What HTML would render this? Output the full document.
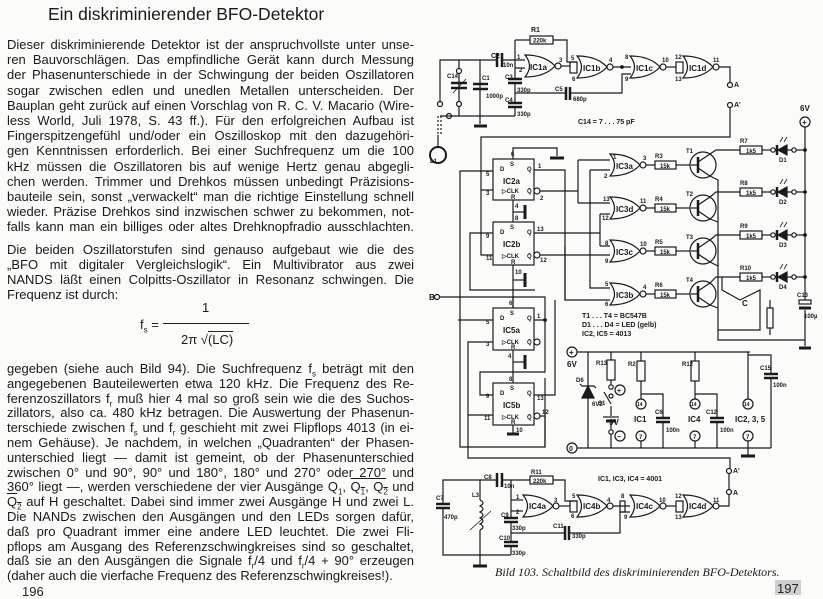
<!DOCTYPE html>
<html><head><meta charset="utf-8">
<style>
html,body{margin:0;padding:0;background:#fbfbfa;}
#p{position:relative;width:823px;height:599px;overflow:hidden;font-family:"Liberation Sans",sans-serif;color:#1a1a1a;}
.l{position:absolute;left:7px;width:407px;font-size:13px;line-height:16px;height:16px;text-align:justify;text-align-last:justify;white-space:nowrap;}
.n{text-align-last:left;}
sub{font-size:8px;line-height:0;}
svg{position:absolute;left:0;top:0;}
</style></head><body><div id="p">
<div style="position:absolute;left:48px;top:4px;font-size:17.5px;">Ein diskriminierender BFO-Detektor</div>
<div class="l" style="top:37px">Dieser diskriminierende Detektor ist der anspruchvollste unter unse-</div>
<div class="l" style="top:52px">ren Bauvorschlägen. Das empfindliche Gerät kann durch Messung</div>
<div class="l" style="top:67px">der Phasenunterschiede in der Schwingung der beiden Oszillatoren</div>
<div class="l" style="top:83px">sogar zwischen edlen und unedlen Metallen unterscheiden. Der</div>
<div class="l" style="top:98px">Bauplan geht zurück auf einen Vorschlag von R. C. V. Macario (Wire-</div>
<div class="l" style="top:113px">less World, Juli 1978, S. 43 ff.). Für den erfolgreichen Aufbau ist</div>
<div class="l" style="top:128px">Fingerspitzengefühl und/oder ein Oszilloskop mit den dazugehöri-</div>
<div class="l" style="top:143px">gen Kenntnissen erforderlich. Bei einer Suchfrequenz um die 100</div>
<div class="l" style="top:159px">kHz müssen die Oszillatoren bis auf wenige Hertz genau abgegli-</div>
<div class="l" style="top:174px">chen werden. Trimmer und Drehkos müssen unbedingt Präzisions-</div>
<div class="l" style="top:189px">bauteile sein, sonst „verwackelt“ man die richtige Einstellung schnell</div>
<div class="l" style="top:204px">wieder. Präzise Drehkos sind inzwischen schwer zu bekommen, not-</div>
<div class="l" style="top:219px">falls kann man ein billiges oder altes Drehknopfradio ausschlachten.</div>
<div class="l" style="top:242px">Die beiden Oszillatorstufen sind genauso aufgebaut wie die des</div>
<div class="l" style="top:257px">„BFO mit digitaler Vergleichslogik“. Ein Multivibrator aus zwei</div>
<div class="l" style="top:272px">NANDS läßt einen Colpitts-Oszillator in Resonanz schwingen. Die</div>
<div class="l n" style="top:287px">Frequenz ist durch:</div>
<div style="position:absolute;left:202px;top:300px;font-size:13px">1</div>
<div style="position:absolute;left:140px;top:317px;font-size:13px">f<sub>s</sub> =</div>
<div style="position:absolute;left:163px;top:323px;width:86px;border-top:1px solid #222"></div>
<div style="position:absolute;left:181px;top:332px;font-size:13px">2π √<span style="border-top:1px solid #222">(LC)</span></div>
<div class="l" style="top:361px">gegeben (siehe auch Bild 94). Die Suchfrequenz f<sub>s</sub> beträgt mit den</div>
<div class="l" style="top:375.8px">angegebenen Bauteilewerten etwa 120 kHz. Die Frequenz des Re-</div>
<div class="l" style="top:390.6px">ferenzoszillators f<sub>r</sub> muß hier 4 mal so groß sein wie die des Suchos-</div>
<div class="l" style="top:405.4px">zillators, also ca. 480 kHz betragen. Die Auswertung der Phasenun-</div>
<div class="l" style="top:420.2px">terschiede zwischen f<sub>s</sub> und f<sub>r</sub> geschieht mit zwei Flipflops 4013 (in ei-</div>
<div class="l" style="top:435px">nem Gehäuse). Je nachdem, in welchen „Quadranten“ der Phasen-</div>
<div class="l" style="top:449.8px">unterschied liegt — damit ist gemeint, ob der Phasenunterschied</div>
<div class="l" style="top:464.6px">zwischen 0° und 90°, 90° und 180°, 180° und 270° oder <u>270°</u> und</div>
<div class="l" style="top:479.4px">360° liegt —, werden verschiedene der vier Ausgänge Q<sub>1</sub>, <span style="text-decoration:overline">Q<sub>1</sub></span>, <span style="text-decoration:overline">Q<sub>2</sub></span> und</div>
<div class="l" style="top:494.2px"><span style="text-decoration:overline">Q<sub>2</sub></span> auf H geschaltet. Dabei sind immer zwei Ausgänge H und zwei L.</div>
<div class="l" style="top:509px">Die NANDs zwischen den Ausgängen und den LEDs sorgen dafür,</div>
<div class="l" style="top:523.8px">daß pro Quadrant immer eine andere LED leuchtet. Die zwei Fli-</div>
<div class="l" style="top:538.6px">pflops am Ausgang des Referenzschwingkreises sind so geschaltet,</div>
<div class="l" style="top:553.4px">daß sie an den Ausgängen die Signale f<sub>r</sub>/4 und f<sub>r</sub>/4 + 90° erzeugen</div>
<div class="l n" style="top:568.2px">(daher auch die vierfache Frequenz des Referenzschwingkreises!).</div>

<svg width="823" height="599" viewBox="0 0 823 599" font-family="Liberation Sans, sans-serif" font-size="7" font-weight="bold" fill="none" stroke="#1a1a1a" stroke-width="1.2">
<defs>
<g id="nor"><path d="M0,0 Q9,11 0,22 Q20,22 30,11 Q20,0 0,0 Z" fill="#fbfbfa"/><circle cx="33" cy="11" r="3" fill="#fbfbfa"/></g>
<g id="tr"><circle cx="0" cy="0" r="13" fill="#fbfbfa"/><line x1="-5" y1="-8" x2="-5" y2="8" stroke-width="2.5"/><line x1="-5" y1="-3" x2="7" y2="-11"/><line x1="-5" y1="3" x2="7" y2="11"/><line x1="-12" y1="0" x2="-5" y2="0"/></g>
<g id="led"><path d="M0,-5 L0,5 L-9,0 Z" fill="#1a1a1a"/><line x1="-10" y1="-5" x2="-10" y2="5" stroke-width="2.5"/><line x1="-3" y1="-8" x2="0" y2="-13" stroke-width="0.8"/><line x1="-7" y1="-8" x2="-4" y2="-13" stroke-width="0.8"/></g>
</defs>
<text x="22" y="596" font-size="13" font-weight="normal" fill="#222" stroke="none">196</text>

<!-- TOP OSCILLATOR -->
<polyline points="440,103 440,60 497,60"/><polyline points="501,60 525,60"/>
<line x1="497" y1="53" x2="497" y2="67" stroke-width="2.5"/><line x1="502" y1="53" x2="502" y2="67" stroke-width="2.5"/>
<polyline points="459,60 459,116"/><line x1="451" y1="83" x2="467" y2="83" stroke-width="2.5"/><line x1="451" y1="88" x2="467" y2="88" stroke-width="2.5"/><line x1="453" y1="93" x2="466" y2="79" stroke-width="0.8"/>
<circle cx="459" cy="71" r="2.5" fill="#fbfbfa"/><circle cx="459" cy="104" r="2.5" fill="#fbfbfa"/><circle cx="440" cy="104" r="2.5" fill="#fbfbfa"/><circle cx="449" cy="116" r="2.5" fill="#fbfbfa"/>
<line x1="480" y1="60" x2="480" y2="124"/><line x1="473" y1="84" x2="488" y2="84" stroke-width="2.5"/><line x1="473" y1="89" x2="488" y2="89" stroke-width="2.5"/>
<line x1="474" y1="126" x2="487" y2="126" stroke-width="3"/>
<polyline points="440,116 515,116"/>
<polyline points="515,40 515,79"/><line x1="508" y1="79" x2="522" y2="79" stroke-width="2.5"/><line x1="508" y1="83" x2="522" y2="83" stroke-width="2.5"/>
<line x1="515" y1="83" x2="515" y2="103"/><line x1="508" y1="103" x2="522" y2="103" stroke-width="2.5"/><line x1="508" y1="107" x2="522" y2="107" stroke-width="2.5"/><line x1="515" y1="107" x2="515" y2="116"/>
<polyline points="515,93 566,93"/><line x1="566" y1="87" x2="566" y2="100" stroke-width="2.5"/><line x1="570" y1="87" x2="570" y2="100" stroke-width="2.5"/><polyline points="570,93 622,93 622,74 631,74"/>
<polyline points="515,40 530,40"/><rect x="530" y="36" width="23" height="8" fill="#fbfbfa"/><polyline points="553,40 567,40 567,62 577,62"/>
<polyline points="515,68 525,68"/>
<path d="M438,116 L438,135" stroke-dasharray="2,2"/><path d="M441,116 L441,135" stroke-dasharray="2,2"/>
<circle cx="438" cy="155" r="8" stroke-width="2"/><line x1="438" y1="135" x2="438" y2="147"/>
<use href="#nor" x="525" y="55"/><polyline points="561,66 570,66"/><rect x="570" y="62" width="7" height="11"/>
<use href="#nor" x="577" y="56"/><polyline points="613,67 631,67"/><circle cx="622" cy="67" r="1.3" fill="#1a1a1a"/>
<use href="#nor" x="630" y="56"/><polyline points="666,67 676,67"/><rect x="676" y="62" width="7" height="11"/>
<use href="#nor" x="683" y="56"/><polyline points="719,67 730,67 730,82"/>
<circle cx="730" cy="85" r="2.5" fill="#fbfbfa"/><circle cx="730" cy="105" r="2.5" fill="#fbfbfa"/>
<polyline points="730,108 730,137 481,137 481,255 493,255"/><polyline points="481,190 493,190"/>
<g fill="#1a1a1a" stroke="none">
<text x="531" y="32">R1</text><text x="533" y="42.5" font-size="6">220k</text>
<text x="491" y="58">C2</text><text x="503" y="67" font-size="6">10n</text>
<text x="447" y="78" font-size="6">C14</text><text x="482" y="80" font-size="6">C1</text><text x="486" y="98" font-size="6">1000p</text>
<text x="505" y="79" font-size="6">C3</text><text x="517" y="92" font-size="6">330p</text><text x="505" y="102" font-size="6">C4</text><text x="517" y="116" font-size="6">330p</text>
<text x="555" y="91" font-size="6">C5</text><text x="573" y="101" font-size="6">680p</text>
<text x="517" y="59" font-size="6">1</text><text x="519" y="72" font-size="6">2</text><text x="559" y="62" font-size="6">3</text><text x="571" y="60" font-size="6">5</text><text x="572" y="81" font-size="6">6</text><text x="609" y="62" font-size="6">4</text><text x="625" y="59" font-size="6">8</text><text x="625" y="81" font-size="6">9</text><text x="662" y="62" font-size="6">10</text><text x="675" y="59" font-size="6">12</text><text x="675" y="81" font-size="6">13</text><text x="713" y="62" font-size="6">11</text>
<text x="530" y="70" font-size="8">IC1a</text><text x="583" y="71" font-size="8">IC1b</text><text x="636" y="71" font-size="8">IC1c</text><text x="689" y="71" font-size="8">IC1d</text>
<text x="734" y="87">A</text><text x="734" y="107">A'</text>
<text x="578" y="124" font-size="7">C14 = 7 . . . 75 pF</text>
<text x="430" y="163" font-size="6">L1</text>
</g>

<!-- IC2 flipflops -->
<rect x="493" y="159" width="41" height="41" fill="#fbfbfa"/><rect x="493" y="222" width="41" height="43" fill="#fbfbfa"/>
<polyline points="513,159 513,148 557,148 557,156"/><line x1="550" y1="158" x2="564" y2="158" stroke-width="3"/>
<line x1="513" y1="200" x2="513" y2="222"/><line x1="513" y1="212" x2="525" y2="212"/><line x1="525" y1="205" x2="525" y2="219" stroke-width="3"/>
<line x1="513" y1="265" x2="513" y2="330"/><line x1="513" y1="280" x2="525" y2="280"/><line x1="525" y1="273" x2="525" y2="287" stroke-width="3"/>
<polyline points="493,171 460,171 460,447 545,447 545,378"/>
<polyline points="493,233 470,233 470,290 535,290"/>
<polyline points="534,170 565,170 565,300"/>
<polyline points="537,191 578,191"/><polyline points="578,160 578,203"/><polyline points="578,160 610,160"/><polyline points="578,203 610,203"/>
<polyline points="534,233 600,233"/><polyline points="600,214 600,246"/><polyline points="600,214 610,214"/><polyline points="600,246 610,246"/>
<polyline points="537,255 610,255"/><polyline points="590,170 590,288 610,288"/><polyline points="590,170 610,170"/>
<polyline points="565,246 565,300 610,300"/>
<circle cx="537" cy="191" r="3" fill="#fbfbfa"/><circle cx="537" cy="255" r="3" fill="#fbfbfa"/>
<use href="#nor" x="610" y="154"/><use href="#nor" x="610" y="197"/><use href="#nor" x="610" y="240"/><use href="#nor" x="610" y="283"/>
<g id="rr"><line x1="646" y1="165" x2="655" y2="165"/><rect x="655" y="161" width="21" height="8" fill="#fbfbfa"/><line x1="676" y1="165" x2="691" y2="165"/></g>
<use href="#rr" y="43"/><use href="#rr" y="86"/><use href="#rr" y="129"/>
<use href="#tr" x="703" y="165"/><use href="#tr" x="703" y="208"/><use href="#tr" x="703" y="251"/><use href="#tr" x="703" y="294"/>
<polyline points="710,154 716,150 740,150"/><polyline points="710,197 716,192 740,192"/><polyline points="710,240 716,235 740,235"/><polyline points="710,283 716,277 740,277"/>
<polyline points="710,176 718,180 718,340 805,340"/><polyline points="710,219 718,222"/><polyline points="710,262 718,266"/><polyline points="710,305 718,308"/>
<g id="rl"><rect x="740" y="146" width="22" height="8" fill="#fbfbfa"/><line x1="762" y1="150" x2="771" y2="150"/><circle cx="773" cy="150" r="2.2" fill="#fbfbfa"/><line x1="775" y1="150" x2="777" y2="150"/><use href="#led" x="787" y="150"/><line x1="787" y1="150" x2="792" y2="150"/><circle cx="794" cy="150" r="2.2" fill="#fbfbfa"/><line x1="796" y1="150" x2="805" y2="150"/><circle cx="805" cy="150" r="1.3" fill="#1a1a1a"/></g>
<use href="#rl" y="42"/><use href="#rl" y="85"/><use href="#rl" y="127"/>
<circle cx="805" cy="122" r="5" fill="#fbfbfa"/><line x1="805" y1="127" x2="805" y2="300"/><line x1="805" y1="310" x2="805" y2="346"/>
<rect x="799" y="300" width="12" height="4" fill="#fbfbfa"/><line x1="799" y1="308" x2="811" y2="308" stroke-width="3"/>
<line x1="799" y1="348" x2="811" y2="348" stroke-width="3"/>
<polyline points="722,277 722,290 740,300 760,290 760,330 718,330"/><rect x="767" y="308" width="6" height="20" fill="#fbfbfa"/><line x1="770" y1="300" x2="770" y2="308"/><line x1="770" y1="328" x2="770" y2="335"/>
<g fill="#1a1a1a" stroke="none">
<text x="500" y="171" font-size="6">D</text><text x="510" y="166" font-size="6">S</text><text x="527" y="171" font-size="6">Q</text><text x="502" y="193" font-size="6">▷CLK</text><text x="511" y="199" font-size="6">R</text><text x="527" y="193" font-size="6">Q̄</text>
<text x="503" y="184" font-size="8">IC2a</text>
<text x="500" y="234" font-size="6">D</text><text x="510" y="229" font-size="6">S</text><text x="527" y="234" font-size="6">Q</text><text x="502" y="258" font-size="6">▷CLK</text><text x="511" y="264" font-size="6">R</text><text x="527" y="258" font-size="6">Q̄</text>
<text x="503" y="247" font-size="8">IC2b</text>
<text x="511" y="156" font-size="6">6</text><text x="486" y="176" font-size="6">5</text><text x="538" y="168" font-size="6">1</text><text x="486" y="195" font-size="6">3</text><text x="540" y="200" font-size="6">2</text><text x="515" y="208" font-size="6">4</text><text x="515" y="220" font-size="6">8</text>
<text x="486" y="238" font-size="6">9</text><text x="537" y="231" font-size="6">13</text><text x="486" y="260" font-size="6">11</text><text x="540" y="262" font-size="6">12</text><text x="515" y="274" font-size="6">10</text>
<text x="613" y="159" font-size="6">1</text><text x="604" y="178" font-size="6">2</text><text x="603" y="201" font-size="6">13</text><text x="602" y="220" font-size="6">12</text><text x="605" y="245" font-size="6">8</text><text x="605" y="263" font-size="6">9</text><text x="605" y="286" font-size="6">5</text><text x="605" y="306" font-size="6">6</text>
<text x="616" y="169" font-size="8">IC3a</text><text x="616" y="212" font-size="8">IC3d</text><text x="616" y="255" font-size="8">IC3c</text><text x="616" y="298" font-size="8">IC3b</text>
<text x="643" y="160" font-size="6">3</text><text x="640" y="203" font-size="6">11</text><text x="640" y="246" font-size="6">10</text><text x="643" y="289" font-size="6">4</text>
<text x="655" y="158" font-size="6">R3</text><text x="655" y="201" font-size="6">R4</text><text x="655" y="244" font-size="6">R5</text><text x="655" y="287" font-size="6">R6</text>
<text x="660" y="168" font-size="6">15k</text><text x="660" y="211" font-size="6">15k</text><text x="660" y="254" font-size="6">15k</text><text x="660" y="297" font-size="6">15k</text>
<text x="686" y="153" font-size="6">T1</text><text x="686" y="196" font-size="6">T2</text><text x="686" y="239" font-size="6">T3</text><text x="686" y="282" font-size="6">T4</text>
<text x="740" y="143" font-size="6">R7</text><text x="740" y="185" font-size="6">R8</text><text x="740" y="228" font-size="6">R9</text><text x="740" y="270" font-size="6">R10</text>
<text x="746" y="153" font-size="6">1k5</text><text x="746" y="195" font-size="6">1k5</text><text x="746" y="238" font-size="6">1k5</text><text x="746" y="280" font-size="6">1k5</text>
<text x="779" y="162" font-size="6">D1</text><text x="779" y="204" font-size="6">D2</text><text x="779" y="247" font-size="6">D3</text><text x="779" y="289" font-size="6">D4</text>
<text x="800" y="111" font-size="8">6V</text><text x="802" y="125" font-size="8">+</text>
<text x="797" y="297" font-size="6">C13</text><text x="804" y="318" font-size="6">100µ</text>
<text x="742" y="306" font-size="8">C</text>
<text x="429" y="300" font-size="8">B</text>
</g>

<!-- IC5 -->
<circle cx="437" cy="297" r="2.5" fill="#fbfbfa"/><polyline points="440,297 545,297 545,318"/>
<rect x="493" y="308" width="41" height="42" fill="#fbfbfa"/><rect x="493" y="383" width="41" height="42" fill="#fbfbfa"/>
<polyline points="513,308 513,297"/><line x1="513" y1="350" x2="513" y2="383"/><line x1="513" y1="362" x2="525" y2="362"/><line x1="525" y1="355" x2="525" y2="369" stroke-width="3"/>
<line x1="513" y1="425" x2="513" y2="433"/><line x1="507" y1="434" x2="519" y2="434" stroke-width="3"/>
<polyline points="493,320 458,320"/><polyline points="534,320 545,320 545,372 480,372 480,395 493,395"/><circle cx="545" cy="320" r="1.3" fill="#1a1a1a"/>
<polyline points="534,395 555,395 555,300"/><polyline points="537,416 545,416 545,447"/>
<circle cx="537" cy="342" r="3" fill="#fbfbfa"/><circle cx="537" cy="416" r="3" fill="#fbfbfa"/>
<polyline points="493,342 468,342 468,458 730,458 730,468"/><polyline points="468,415 493,415"/>
<g fill="#1a1a1a" stroke="none">
<text x="500" y="320" font-size="6">D</text><text x="510" y="315" font-size="6">S</text><text x="527" y="320" font-size="6">Q</text><text x="502" y="344" font-size="6">▷CLK</text><text x="511" y="349" font-size="6">R</text><text x="527" y="344" font-size="6">Q̄</text>
<text x="503" y="333" font-size="8">IC5a</text>
<text x="500" y="395" font-size="6">D</text><text x="510" y="390" font-size="6">S</text><text x="527" y="395" font-size="6">Q</text><text x="502" y="419" font-size="6">▷CLK</text><text x="511" y="424" font-size="6">R</text><text x="527" y="419" font-size="6">Q̄</text>
<text x="503" y="408" font-size="8">IC5b</text>
<text x="509" y="305" font-size="6">6</text><text x="486" y="324" font-size="6">5</text><text x="537" y="318" font-size="6">1</text><text x="486" y="346" font-size="6">3</text><text x="508" y="358" font-size="6">4</text><text x="509" y="381" font-size="6">8</text>
<text x="486" y="398" font-size="6">9</text><text x="537" y="400" font-size="6">13</text><text x="484" y="420" font-size="6">11</text><text x="542" y="414" font-size="6">12</text><text x="516" y="432" font-size="6">10</text>
<text x="582" y="318">T1 . . . T4 = BC547B</text><text x="582" y="327">D1 . . . D4 = LED (gelb)</text><text x="582" y="336">IC2, IC5 = 4013</text>
</g>

<!-- POWER -->
<circle cx="572" cy="352" r="5" fill="#fbfbfa"/><line x1="577" y1="352" x2="750" y2="352"/>
<circle cx="572" cy="448" r="5" fill="#fbfbfa"/><line x1="577" y1="448" x2="771" y2="448"/>
<line x1="588" y1="352" x2="588" y2="448"/><path d="M582,398 L594,398 L588,386 Z" fill="#1a1a1a"/><polyline points="580,384 582,386 594,386 596,388" />
<line x1="611" y1="352" x2="611" y2="360"/><rect x="607" y="360" width="8" height="20" fill="#fbfbfa"/><line x1="611" y1="380" x2="611" y2="385"/>
<circle cx="611" cy="387" r="2.2" fill="#fbfbfa"/><circle cx="611" cy="396" r="2" fill="#fbfbfa"/><line x1="611" y1="404" x2="604" y2="392"/><line x1="611" y1="406" x2="611" y2="416"/>
<line x1="603" y1="417" x2="619" y2="417" stroke-width="1.2"/><line x1="606" y1="421" x2="616" y2="421" stroke-width="3"/><line x1="611" y1="421" x2="611" y2="448"/><circle cx="611" cy="432" r="2.2" fill="#fbfbfa"/>
<circle cx="620" cy="390" r="5"/><circle cx="620" cy="436" r="5"/>
<line x1="641" y1="352" x2="641" y2="361"/><rect x="637" y="361" width="8" height="20" fill="#fbfbfa"/><polyline points="641,381 641,399"/><polyline points="641,394 663,394 663,417"/>
<line x1="656" y1="418" x2="670" y2="418" stroke-width="2.5"/><line x1="656" y1="422" x2="670" y2="422" stroke-width="2.5"/><line x1="663" y1="422" x2="663" y2="448"/>
<circle cx="641" cy="404" r="5" fill="#fbfbfa"/><circle cx="641" cy="436" r="5" fill="#fbfbfa"/><line x1="641" y1="441" x2="641" y2="448"/>
<line x1="695" y1="352" x2="695" y2="361"/><rect x="691" y="361" width="8" height="20" fill="#fbfbfa"/><polyline points="695,381 695,399"/><polyline points="695,394 717,394 717,417"/>
<line x1="710" y1="418" x2="724" y2="418" stroke-width="2.5"/><line x1="710" y1="422" x2="724" y2="422" stroke-width="2.5"/><line x1="717" y1="422" x2="717" y2="448"/>
<circle cx="695" cy="404" r="5" fill="#fbfbfa"/><circle cx="695" cy="436" r="5" fill="#fbfbfa"/><line x1="695" y1="441" x2="695" y2="448"/>
<line x1="748" y1="352" x2="748" y2="399"/><circle cx="748" cy="404" r="5" fill="#fbfbfa"/><circle cx="748" cy="436" r="5" fill="#fbfbfa"/><line x1="748" y1="441" x2="748" y2="455"/><line x1="741" y1="456" x2="755" y2="456" stroke-width="3"/>
<polyline points="748,355 771,355 771,373"/><line x1="764" y1="374" x2="778" y2="374" stroke-width="2.5"/><line x1="764" y1="378" x2="778" y2="378" stroke-width="2.5"/><line x1="771" y1="378" x2="771" y2="448"/>
<g fill="#1a1a1a" stroke="none">
<text x="569" y="355" font-size="8">+</text><text x="569" y="451" font-size="7">0</text><text x="567" y="367" font-size="8">6V</text>
<text x="576" y="382" font-size="6">D6</text><text x="592" y="406" font-size="6">6V2</text>
<text x="596" y="365" font-size="6">R13</text><text x="598" y="405" font-size="6">S1</text><text x="609" y="425" font-size="8">9V</text>
<text x="617" y="393" font-size="7">+</text><text x="617" y="439" font-size="7">−</text>
<text x="628" y="366" font-size="6">R2</text><text x="682" y="366" font-size="6">R12</text>
<text x="637" y="406" font-size="5">14</text><text x="639" y="439" font-size="6">7</text><text x="691" y="406" font-size="5">14</text><text x="693" y="439" font-size="6">7</text><text x="744" y="406" font-size="5">14</text><text x="746" y="439" font-size="6">7</text>
<text x="634" y="422" font-size="8">IC1</text><text x="688" y="422" font-size="8">IC4</text><text x="735" y="422" font-size="8">IC2, 3, 5</text>
<text x="655" y="414" font-size="6">C6</text><text x="666" y="432" font-size="6">100n</text><text x="706" y="414" font-size="6">C12</text><text x="720" y="432" font-size="6">100n</text>
<text x="760" y="370" font-size="6">C15</text><text x="773" y="387" font-size="6">100n</text>
</g>

<!-- BOTTOM OSCILLATOR -->
<polyline points="443,503 443,480 497,480"/><line x1="497" y1="473" x2="497" y2="487" stroke-width="2.5"/><line x1="502" y1="473" x2="502" y2="487" stroke-width="2.5"/><polyline points="502,480 530,480"/>
<rect x="530" y="476" width="23" height="8" fill="#fbfbfa"/><polyline points="553,480 565,480 565,501 577,501"/>
<line x1="436" y1="504" x2="450" y2="504" stroke-width="2.5"/><line x1="436" y1="508" x2="450" y2="508" stroke-width="2.5"/><polyline points="443,508 443,555 511,555"/>
<polyline points="480,480 480,500"/><path d="M480,500 q6,3 0,6 q6,3 0,6 q6,3 0,6 q6,3 0,6 q6,3 0,6" /><line x1="480" y1="530" x2="480" y2="565"/><line x1="470" y1="530" x2="491" y2="511" stroke-width="0.8"/>
<line x1="473" y1="566" x2="487" y2="566" stroke-width="3"/>
<polyline points="511,480 511,518"/><polyline points="511,500 523,500"/><polyline points="511,511 523,511"/>
<line x1="504" y1="518" x2="518" y2="518" stroke-width="2.5"/><line x1="504" y1="522" x2="518" y2="522" stroke-width="2.5"/><line x1="511" y1="522" x2="511" y2="542"/>
<line x1="504" y1="542" x2="518" y2="542" stroke-width="2.5"/><line x1="504" y1="546" x2="518" y2="546" stroke-width="2.5"/><line x1="511" y1="546" x2="511" y2="555"/>
<polyline points="511,533 565,533"/><line x1="565" y1="526" x2="565" y2="540" stroke-width="2.5"/><line x1="569" y1="526" x2="569" y2="540" stroke-width="2.5"/><polyline points="569,533 620,533 620,512 630,512"/>
<use href="#nor" x="523" y="495"/><polyline points="559,506 570,506"/><rect x="570" y="501" width="7" height="11"/>
<use href="#nor" x="577" y="495"/><polyline points="613,506 630,506"/><rect x="620" y="501" width="5" height="11"/>
<use href="#nor" x="630" y="495"/><polyline points="666,506 676,506"/><rect x="676" y="501" width="7" height="11"/>
<use href="#nor" x="683" y="495"/><polyline points="719,506 729,506 729,495"/>
<circle cx="729" cy="492" r="2.5" fill="#fbfbfa"/><circle cx="729" cy="471" r="2.5" fill="#fbfbfa"/><line x1="729" y1="474" x2="729" y2="489"/>
<g fill="#1a1a1a" stroke="none">
<text x="484" y="479" font-size="6">C8</text><text x="504" y="488" font-size="6">10n</text><text x="531" y="474" font-size="6">R11</text><text x="533" y="483" font-size="6">220k</text>
<text x="436" y="500" font-size="6">C7</text><text x="444" y="519" font-size="6">470p</text><text x="472" y="497" font-size="6">L3</text>
<text x="501" y="517" font-size="6">C9</text><text x="512" y="530" font-size="6">330p</text><text x="499" y="540" font-size="6">C10</text><text x="512" y="555" font-size="6">330p</text>
<text x="553" y="528" font-size="6">C11</text><text x="572" y="538" font-size="6">330p</text>
<text x="516" y="499" font-size="6">1</text><text x="516" y="514" font-size="6">2</text><text x="554" y="502" font-size="6">3</text><text x="572" y="498" font-size="6">5</text><text x="571" y="518" font-size="6">6</text><text x="607" y="502" font-size="6">4</text><text x="621" y="498" font-size="6">8</text><text x="624" y="519" font-size="6">9</text><text x="659" y="502" font-size="6">10</text><text x="675" y="498" font-size="6">12</text><text x="675" y="519" font-size="6">13</text><text x="713" y="502" font-size="6">11</text>
<text x="529" y="509" font-size="8">IC4a</text><text x="583" y="509" font-size="8">IC4b</text><text x="636" y="509" font-size="8">IC4c</text><text x="689" y="509" font-size="8">IC4d</text>
<text x="733" y="473">A'</text><text x="733" y="495">A</text>
<text x="598" y="481" font-size="7">IC1, IC3, IC4 = 4001</text>
<text x="495" y="576" font-family="Liberation Serif, serif" font-style="italic" font-weight="normal" font-size="12">Bild 103. Schaltbild des diskriminierenden BFO-Detektors.</text>
</g>
<rect x="775" y="580" width="26" height="15" fill="#cfcfcf" stroke="none"/>
<text x="777" y="593" font-size="13" font-weight="normal" fill="#222" stroke="none">197</text>
</svg>
</div></body></html>
